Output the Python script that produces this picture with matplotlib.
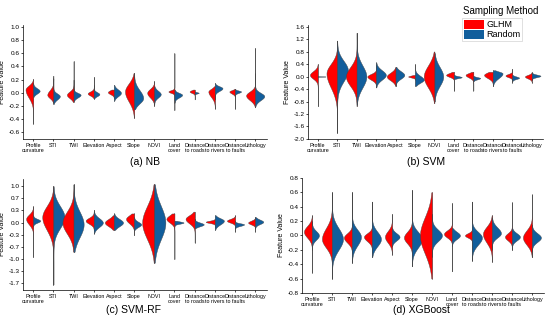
import matplotlib
matplotlib.use("Agg")
import matplotlib.pyplot as plt
from matplotlib.patches import Patch
import numpy as np

plt.rcParams['font.family'] = ['Liberation Sans', 'DejaVu Sans']

categories = ["Profile\ncurvature", "STI", "TWI", "Elevation", "Aspect", "Slope",
              "NDVI", "Land\ncover", "Distance\nto roads", "Distance\nto rivers",
              "Distance\nto faults", "Lithology"]

# each entry: (peak, spread below, spread above, half width, min, max)
nb_glhm = [(0.05, 0.12, 0.06, 0.38, -0.47, 0.21), (-0.03, 0.05, 0.07, 0.30, -0.15, 0.26),
           (-0.03, 0.05, 0.05, 0.33, -0.14, 0.48), (-0.01, 0.03, 0.03, 0.30, -0.08, 0.24),
           (0.01, 0.03, 0.03, 0.30, -0.08, 0.05), (0.02, 0.15, 0.12, 0.45, -0.38, 0.30),
           (0.00, 0.07, 0.06, 0.35, -0.20, 0.18), (0.02, 0.02, 0.02, 0.30, -0.26, 0.60),
           (0.02, 0.02, 0.02, 0.25, -0.10, 0.05), (0.02, 0.08, 0.04, 0.32, -0.24, 0.10),
           (0.02, 0.03, 0.02, 0.28, -0.24, 0.06), (-0.04, 0.07, 0.06, 0.45, -0.22, 0.68)]
nb_random = [(0.03, 0.04, 0.04, 0.32, -0.06, 0.15), (-0.05, 0.05, 0.04, 0.32, -0.17, 0.22),
             (-0.03, 0.04, 0.03, 0.35, -0.12, 0.20), (-0.02, 0.03, 0.03, 0.28, -0.09, 0.12),
             (0.00, 0.05, 0.05, 0.35, -0.12, 0.12), (-0.08, 0.08, 0.12, 0.45, -0.25, 0.30),
             (-0.02, 0.05, 0.05, 0.32, -0.18, 0.10), (-0.03, 0.04, 0.03, 0.38, -0.15, 0.05),
             (0.00, 0.01, 0.01, 0.20, -0.02, 0.02), (0.07, 0.04, 0.03, 0.38, -0.10, 0.15),
             (0.02, 0.02, 0.015, 0.30, -0.05, 0.06), (-0.05, 0.06, 0.05, 0.45, -0.20, 0.30)]

svm_glhm = [(0.05, 0.12, 0.12, 0.40, -0.95, 0.40), (0.10, 0.45, 0.30, 0.55, -1.80, 1.15),
            (0.00, 0.30, 0.30, 0.55, -0.95, 1.40), (0.00, 0.10, 0.08, 0.45, -0.35, 0.40),
            (0.00, 0.12, 0.12, 0.45, -0.30, 0.30), (0.00, 0.03, 0.03, 0.35, -0.10, 0.05),
            (0.00, 0.35, 0.35, 0.55, -0.85, 0.80), (0.05, 0.06, 0.06, 0.40, -0.45, 0.15),
            (0.05, 0.08, 0.06, 0.40, -0.45, 0.15), (0.05, 0.10, 0.08, 0.45, -0.30, 0.15),
            (0.03, 0.05, 0.05, 0.35, -0.20, 0.25), (0.00, 0.06, 0.05, 0.35, -0.20, 0.15)]
svm_random = [(0.00, 0.005, 0.005, 0.40, -0.01, 0.01), (0.20, 0.35, 0.30, 0.55, -1.80, 1.15),
              (0.00, 0.35, 0.35, 0.50, -0.90, 1.40), (0.05, 0.15, 0.15, 0.50, -0.35, 0.45),
              (0.05, 0.12, 0.12, 0.45, -0.30, 0.30), (-0.10, 0.10, 0.12, 0.45, -0.30, 0.40),
              (0.00, 0.30, 0.30, 0.45, -0.80, 0.75), (-0.02, 0.03, 0.03, 0.40, -0.08, 0.05),
              (-0.05, 0.04, 0.03, 0.35, -0.15, 0.02), (0.10, 0.15, 0.06, 0.50, -0.30, 0.20),
              (-0.04, 0.04, 0.04, 0.35, -0.15, 0.05), (0.02, 0.04, 0.04, 0.45, -0.12, 0.12)]

svmrf_glhm = [(0.10, 0.15, 0.12, 0.35, -0.95, 0.45), (0.15, 0.35, 0.30, 0.55, -1.70, 1.00),
              (0.00, 0.30, 0.30, 0.55, -0.80, 1.05), (0.05, 0.08, 0.08, 0.40, -0.25, 0.30),
              (0.00, 0.10, 0.10, 0.45, -0.20, 0.20), (0.10, 0.12, 0.10, 0.40, -0.35, 0.25),
              (0.00, 0.45, 0.45, 0.60, -1.10, 1.05), (0.10, 0.10, 0.10, 0.40, -1.00, 0.25),
              (0.10, 0.12, 0.10, 0.45, -0.55, 0.30), (0.02, 0.03, 0.03, 0.45, -0.15, 0.10),
              (0.05, 0.05, 0.05, 0.40, -0.25, 0.20), (0.00, 0.05, 0.05, 0.35, -0.25, 0.15)]
svmrf_random = [(0.05, 0.05, 0.05, 0.35, -0.10, 0.20), (0.15, 0.30, 0.30, 0.55, -1.70, 1.00),
                (-0.05, 0.35, 0.35, 0.50, -0.80, 1.05), (0.00, 0.12, 0.12, 0.45, -0.30, 0.35),
                (0.00, 0.10, 0.10, 0.45, -0.20, 0.25), (-0.05, 0.07, 0.07, 0.35, -0.20, 0.15),
                (0.00, 0.45, 0.45, 0.55, -1.10, 1.05), (0.00, 0.03, 0.03, 0.45, -0.10, 0.05),
                (-0.05, 0.05, 0.05, 0.45, -0.15, 0.10), (0.05, 0.10, 0.07, 0.45, -0.20, 0.20),
                (-0.05, 0.04, 0.03, 0.45, -0.15, 0.05), (0.02, 0.06, 0.06, 0.40, -0.15, 0.15)]

xgb_glhm = [(0.05, 0.08, 0.08, 0.40, -0.52, 0.28), (-0.05, 0.12, 0.15, 0.50, -0.60, 0.60),
            (-0.03, 0.07, 0.06, 0.40, -0.38, 0.60), (-0.02, 0.06, 0.05, 0.40, -0.30, 0.47),
            (-0.02, 0.08, 0.08, 0.35, -0.27, 0.30), (-0.03, 0.08, 0.08, 0.40, -0.43, 0.63),
            (0.00, 0.25, 0.25, 0.60, -0.60, 0.60), (0.02, 0.05, 0.05, 0.40, -0.50, 0.45),
            (0.00, 0.03, 0.03, 0.35, -0.35, 0.47), (0.02, 0.12, 0.10, 0.45, -0.37, 0.28),
            (-0.02, 0.05, 0.05, 0.35, -0.20, 0.46), (-0.03, 0.10, 0.10, 0.45, -0.30, 0.57)]
xgb_random = [(0.00, 0.06, 0.06, 0.35, -0.20, 0.20), (-0.05, 0.15, 0.15, 0.55, -0.60, 0.60),
              (-0.02, 0.12, 0.10, 0.45, -0.38, 0.60), (-0.05, 0.10, 0.10, 0.45, -0.30, 0.47),
              (-0.02, 0.05, 0.05, 0.38, -0.15, 0.10), (-0.05, 0.12, 0.10, 0.50, -0.43, 0.63),
              (0.00, 0.08, 0.08, 0.50, -0.30, 0.30), (0.00, 0.05, 0.05, 0.40, -0.15, 0.10),
              (-0.03, 0.10, 0.08, 0.50, -0.35, 0.47), (0.03, 0.06, 0.08, 0.45, -0.20, 0.25),
              (-0.02, 0.05, 0.05, 0.40, -0.20, 0.10), (-0.03, 0.06, 0.06, 0.45, -0.30, 0.15)]

RED = '#ff0000'
BLUE = '#115e9c'


def half_violin(ax, x, stats, side, color):
    peak, s_dn, s_up, w, lo, hi = stats
    y = np.linspace(lo, hi, 300)
    s = np.where(y < peak, s_dn, s_up)
    wid = w * np.exp(-0.5 * ((y - peak) / s) ** 2)
    ax.plot([x, x], [lo, hi], color='#777777', lw=0.5, zorder=1)
    if side < 0:
        ax.fill_betweenx(y, x - wid, x, color=color, lw=0.3, edgecolor='#444444', zorder=2)
    else:
        ax.fill_betweenx(y, x, x + wid, color=color, lw=0.3, edgecolor='#444444', zorder=2)


def panel(rect, glhm, rnd, ylim, yticks, ylabels, caption, cap_x, cap_y):
    ax = fig.add_axes(rect)
    for i in range(len(categories)):
        half_violin(ax, i, glhm[i], -1, RED)
        half_violin(ax, i, rnd[i], 1, BLUE)
    ax.set_xlim(-0.5, 11.6)
    ax.set_ylim(*ylim)
    ax.set_yticks(yticks)
    ax.set_yticklabels(ylabels)
    ax.set_xticks(range(len(categories)))
    ax.set_xticklabels(categories, fontsize=3.9, linespacing=1.05)
    ax.tick_params(axis='y', labelsize=4.6, length=1.5, width=0.5, pad=1)
    ax.tick_params(axis='x', length=1.5, width=0.5, pad=1.5)
    ax.set_ylabel('Feature Value', fontsize=5, labelpad=2)
    for sp in ['top', 'right']:
        ax.spines[sp].set_visible(False)
    for sp in ['left', 'bottom']:
        ax.spines[sp].set_linewidth(0.5)
    fig.text(cap_x, cap_y, caption, fontsize=7.5, ha='center', va='center')
    return ax


fig = plt.figure(figsize=(5.5, 3.24), dpi=100)

t_a = [1.0, 0.8, 0.6, 0.4, 0.2, 0.0, -0.2, -0.4, -0.6]
panel([0.042, 0.571, 0.444, 0.352], nb_glhm, nb_random, (-0.7, 1.03), t_a,
      ['%.1f' % t for t in t_a], '(a) NB', 145 / 550, 1 - 162 / 324)

t_b = [1.6, 1.2, 0.8, 0.4, 0.0, -0.4, -0.8, -1.2, -1.6, -2.0]
panel([0.56, 0.571, 0.428, 0.352], svm_glhm, svm_random, (-2.0, 1.65), t_b,
      ['%.1f' % t for t in t_b], '(b) SVM', 426 / 550, 1 - 162 / 324)

t_c = [1.0, 2 / 3, 1 / 3, 0.0, -1 / 3, -2 / 3, -1.0, -4 / 3, -5 / 3]
panel([0.042, 0.105, 0.444, 0.343], svmrf_glhm, svmrf_random, (-1.85, 1.2), t_c,
      ['%.1f' % t if abs(t) > 1e-9 else '0.0' for t in t_c], '(c) SVM-RF',
      134 / 550, 1 - 310 / 324)

t_d = [0.8, 0.6, 0.4, 0.2, 0.0, -0.2, -0.4, -0.6, -0.8]
panel([0.549, 0.096, 0.44, 0.355], xgb_glhm, xgb_random, (-0.8, 0.8), t_d,
      ['%.1f' % t for t in t_d], '(d) XGBoost', 421 / 550, 1 - 310 / 324)

handles = [Patch(facecolor=RED, edgecolor='none'), Patch(facecolor=BLUE, edgecolor='none')]
leg = fig.legend(handles, ['GLHM', 'Random'], loc='upper left', bbox_to_anchor=(0.84, 0.945),
                 fontsize=6.5, frameon=True, fancybox=False, handlelength=2.2, handleheight=1.2,
                 handletextpad=0.3, labelspacing=0.05, borderpad=0.2, borderaxespad=0)
leg.get_frame().set_linewidth(0.4)
leg.get_frame().set_edgecolor('#bbbbbb')
fig.text(0.842, 0.967, 'Sampling Method', fontsize=7, va='center')

fig.savefig('out.png', dpi=100)
